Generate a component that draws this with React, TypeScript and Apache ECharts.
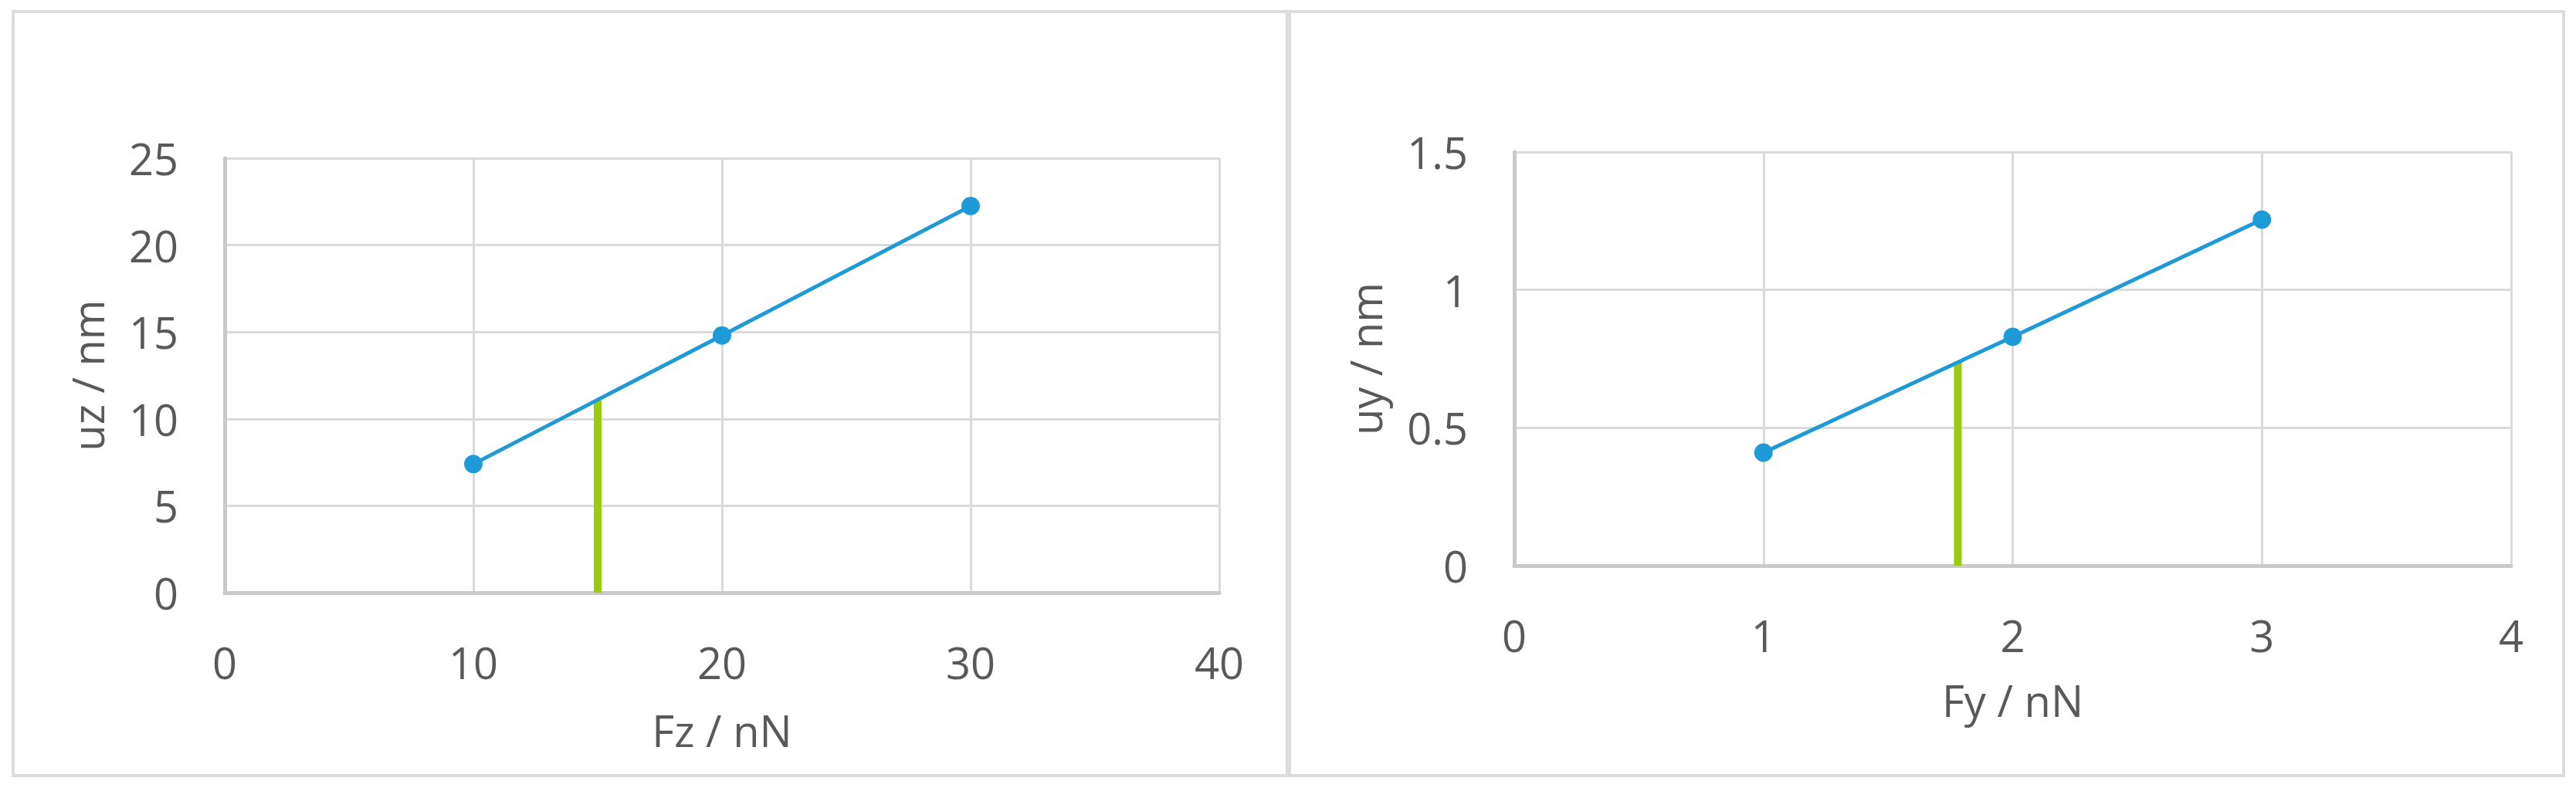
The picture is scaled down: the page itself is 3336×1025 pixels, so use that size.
import React, { useEffect, useRef } from "react";
import * as echarts from "echarts";

// Left panel: Fz vs uz
const fzValues = [10, 20, 30];
const uzValues = [7.4, 14.8, 22.25];
const fzMarkerX = [15, 15];
const fzMarkerY = [0, 11.1];
const fzTicks = [0, 10, 20, 30, 40];
const uzTicks = [0, 5, 10, 15, 20, 25];

// Right panel: Fy vs uy
const fyValues = [1, 2, 3];
const uyValues = [0.41, 0.83, 1.255];
const fyMarkerX = [1.78, 1.78];
const fyMarkerY = [0, 0.74];
const fyTicks = [0, 1, 2, 3, 4];
const uyTicks = [0, 0.5, 1, 1.5];

const FONT = "'Open Sans', 'Noto Sans', sans-serif";
const TXT = "#595959";
const BLUE = "#1f9ad8";
const GREEN = "#9bcc0a";

export default function App() {
  const ref = useRef<HTMLDivElement>(null);
  useEffect(() => {
    document.body.style.margin = "0";
    if (!ref.current) return;
    const chart = echarts.init(ref.current, undefined, { renderer: "svg" });

    const axisCommon = (ticks: number[], name: string, isX: boolean, nameGap: number) => ({
      type: "value",
      min: ticks[0],
      max: ticks[ticks.length - 1],
      interval: ticks[1] - ticks[0],
      name,
      nameLocation: "middle",
      nameGap,
      nameTextStyle: { color: TXT, fontSize: 56, fontFamily: FONT },
      axisLine: { show: true, onZero: false, lineStyle: { color: "#c9c9c9", width: 5 } },
      axisTick: { show: false },
      axisLabel: { color: TXT, fontSize: 56, fontFamily: FONT, margin: isX ? 62 : 60 },
      splitLine: { show: true, lineStyle: { color: "#dadada", width: 3 } },
    });

    chart.setOption({
      animation: false,
      backgroundColor: "#ffffff",
      graphic: [
        { type: "rect", shape: { x: 17, y: 15, width: 1650, height: 990 }, style: { fill: "none", stroke: "#dcdcdc", lineWidth: 4 }, z: -1 },
        { type: "rect", shape: { x: 1670, y: 15, width: 1650, height: 990 }, style: { fill: "none", stroke: "#dcdcdc", lineWidth: 4 }, z: -1 },
      ],
      grid: [
        { left: 291, top: 205, width: 1288, height: 563, containLabel: false },
        { left: 1961, top: 197, width: 1291, height: 536, containLabel: false },
      ],
      xAxis: [
        { ...axisCommon(fzTicks, "Fz / nN", true, 150), gridIndex: 0 },
        { ...axisCommon(fyTicks, "Fy / nN", true, 146), gridIndex: 1 },
      ],
      yAxis: [
        { ...axisCommon(uzTicks, "uz / nm", false, 150), gridIndex: 0 },
        { ...axisCommon(uyTicks, "uy / nm", false, 165), gridIndex: 1 },
      ],
      series: [
        {
          type: "line",
          xAxisIndex: 0,
          yAxisIndex: 0,
          data: fzMarkerX.map((x, i) => [x, fzMarkerY[i]]),
          showSymbol: false,
          lineStyle: { color: GREEN, width: 10 },
          z: 2,
        },
        {
          type: "line",
          xAxisIndex: 0,
          yAxisIndex: 0,
          data: fzValues.map((x, i) => [x, uzValues[i]]),
          symbol: "circle",
          symbolSize: 24,
          itemStyle: { color: BLUE },
          lineStyle: { color: BLUE, width: 5 },
          z: 3,
        },
        {
          type: "line",
          xAxisIndex: 1,
          yAxisIndex: 1,
          data: fyMarkerX.map((x, i) => [x, fyMarkerY[i]]),
          showSymbol: false,
          lineStyle: { color: GREEN, width: 10 },
          z: 2,
        },
        {
          type: "line",
          xAxisIndex: 1,
          yAxisIndex: 1,
          data: fyValues.map((x, i) => [x, uyValues[i]]),
          symbol: "circle",
          symbolSize: 24,
          itemStyle: { color: BLUE },
          lineStyle: { color: BLUE, width: 5 },
          z: 3,
        },
      ],
    });
    return () => chart.dispose();
  }, []);
  return <div ref={ref} style={{ width: 3336, height: 1025 }} />;
}
